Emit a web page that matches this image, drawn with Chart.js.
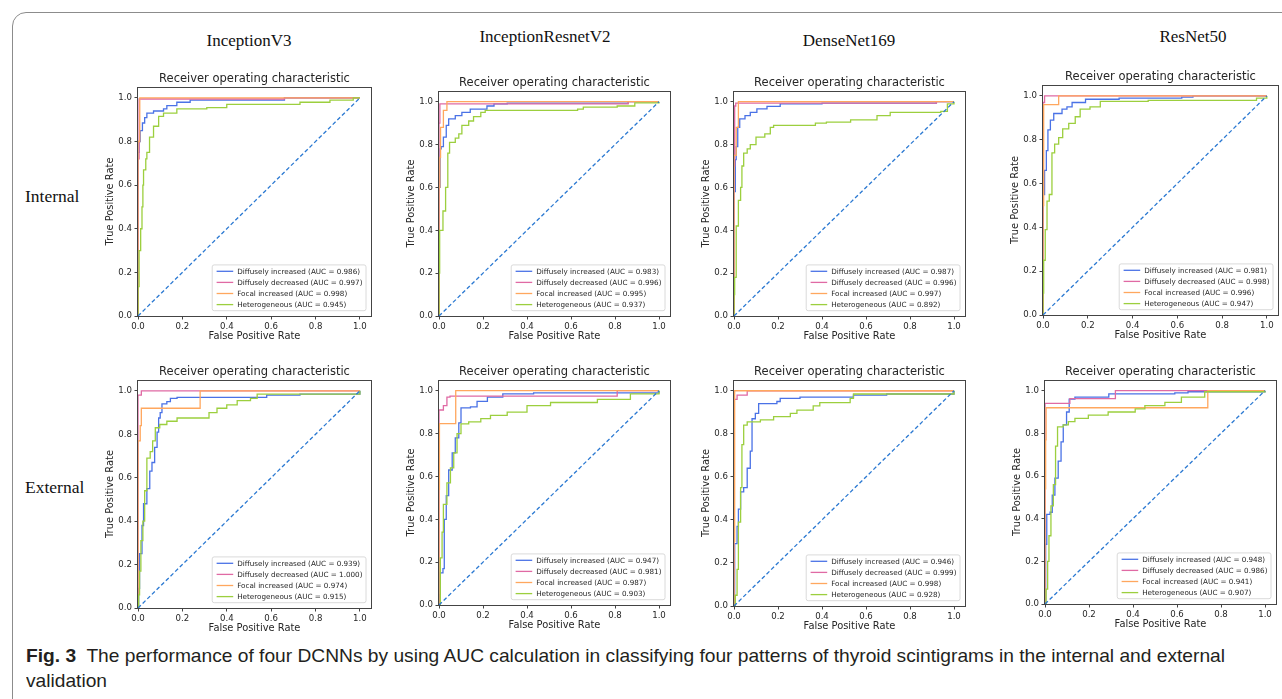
<!DOCTYPE html>
<html>
<head>
<meta charset="utf-8">
<title>Fig. 3 ROC curves</title>
<script src="https://cdn.jsdelivr.net/npm/chart.js@4.4.1/dist/chart.umd.min.js"></script>
<style>
  body { margin: 0; width: 1282px; height: 699px; overflow: hidden; background: #fff; position: relative; }
  .frame { position: absolute; left: 12px; top: 12px; width: 1400px; height: 800px; border: 1px solid #8c8c8c; border-top-left-radius: 14px; }
  .head { position: absolute; font-family: "Liberation Serif", serif; font-size: 17px; line-height: 17px; color: #111; transform: translateX(-50%); white-space: nowrap; }
  .row { position: absolute; font-family: "Liberation Serif", serif; font-size: 17.5px; line-height: 18px; color: #111; white-space: nowrap; }
  .cap { position: absolute; left: 26px; top: 643px; font-family: "Liberation Sans Narrow", "Liberation Sans", sans-serif; font-size: 18.5px; line-height: 25px; color: #231f20; white-space: nowrap; transform-origin: 0 0; }
  .cap b { font-weight: bold; }
  canvas { position: absolute; }
</style>
</head>
<body>
<div class="frame"></div>
<div id="heads"></div>
<div class="cap" id="cap"><span id="capLine"><b>Fig. 3</b>&nbsp; The performance of four DCNNs by using AUC calculation in classifying four patterns of thyroid scintigrams in the internal and external</span><br>validation</div>

<script>
// ---- data ----
const MODELS = ['InceptionV3', 'InceptionResnetV2', 'DenseNet169', 'ResNet50'];
const SETS = ['Internal', 'External'];
const CLASSES = ['Diffusely increased', 'Diffusely decreased', 'Focal increased', 'Heterogeneous'];
const TICKS = [0, 0.2, 0.4, 0.6, 0.8, 1.0];
const CHANCE = [[0, 0], [1, 1]];

const AUC_V3_INT = [0.986, 0.997, 0.998, 0.945];
const AUC_IRV2_INT = [0.983, 0.996, 0.995, 0.937];
const AUC_DN_INT = [0.987, 0.996, 0.997, 0.892];
const AUC_RN_INT = [0.981, 0.998, 0.996, 0.947];
const AUC_V3_EXT = [0.939, 1.000, 0.974, 0.915];
const AUC_IRV2_EXT = [0.947, 0.981, 0.987, 0.903];
const AUC_DN_EXT = [0.946, 0.999, 0.998, 0.928];
const AUC_RN_EXT = [0.948, 0.986, 0.941, 0.907];

// ROC corner points [fpr, tpr]
const V3_INT_INC = [[0,0],[0,0.75],[0.005,0.8],[0.01,0.85],[0.02,0.885],[0.03,0.91],[0.04,0.93],[0.07,0.94],[0.115,0.95],[0.13,0.965],[0.175,0.98],[0.235,0.99],[0.66,1],[1,1]];
const V3_INT_DEC = [[0,0],[0,0.72],[0.005,0.995],[0.66,1],[1,1]];
const V3_INT_FOC = [[0,0],[0,0.8],[0.008,1],[1,1]];
const V3_INT_HET = [[0,0],[0,0.135],[0.005,0.3],[0.012,0.4],[0.018,0.5],[0.022,0.6],[0.025,0.67],[0.035,0.72],[0.04,0.75],[0.052,0.82],[0.07,0.87],[0.093,0.915],[0.115,0.93],[0.175,0.95],[0.31,0.955],[0.4,0.97],[0.73,0.98],[0.865,0.99],[0.97,1],[1,1]];

const IRV2_INT_INC = [[0,0],[0,0.6],[0.005,0.78],[0.01,0.79],[0.02,0.835],[0.033,0.89],[0.044,0.92],[0.074,0.935],[0.104,0.95],[0.142,0.965],[0.218,0.98],[0.25,0.99],[0.31,0.993],[0.86,1],[1,1]];
const IRV2_INT_DEC = [[0,0],[0,0.9],[0.004,0.99],[0.86,1],[1,1]];
const IRV2_INT_FOC = [[0,0],[0,0.6],[0.004,0.74],[0.007,0.88],[0.02,0.96],[0.036,1],[1,1]];
const IRV2_INT_HET = [[0,0],[0,0.2],[0.003,0.4],[0.018,0.49],[0.03,0.6],[0.04,0.76],[0.048,0.81],[0.074,0.83],[0.09,0.85],[0.104,0.89],[0.135,0.91],[0.157,0.93],[0.19,0.95],[0.21,0.96],[0.63,0.965],[0.656,0.975],[0.81,0.98],[0.89,0.995],[1,1]];

const DN_INT_INC = [[0,0],[0,0.58],[0.006,0.73],[0.01,0.79],[0.017,0.88],[0.026,0.92],[0.05,0.935],[0.074,0.95],[0.104,0.967],[0.15,0.978],[0.21,0.99],[0.4,0.993],[0.92,1],[1,1]];
const DN_INT_DEC = [[0,0],[0,0.7],[0.003,0.98],[0.008,0.993],[0.92,1],[1,1]];
const DN_INT_FOC = [[0,0],[0,0.75],[0.01,0.88],[0.02,1],[1,1]];
const DN_INT_HET = [[0,0],[0,0.1],[0.003,0.18],[0.01,0.42],[0.02,0.54],[0.03,0.6],[0.036,0.7],[0.044,0.76],[0.06,0.78],[0.074,0.8],[0.1,0.835],[0.14,0.85],[0.165,0.88],[0.18,0.89],[0.37,0.9],[0.42,0.905],[0.53,0.915],[0.65,0.935],[0.71,0.95],[0.94,0.955],[0.97,0.99],[1,1]];

const RN_INT_INC = [[0,0],[0,0.55],[0.007,0.66],[0.015,0.75],[0.022,0.845],[0.033,0.89],[0.048,0.92],[0.085,0.94],[0.107,0.95],[0.13,0.97],[0.19,0.985],[0.34,0.99],[0.62,0.995],[0.67,1],[1,1]];
const RN_INT_DEC = [[0,0],[0,0.97],[0.007,1],[1,1]];
const RN_INT_FOC = [[0,0],[0,0.5],[0.003,0.96],[0.07,1],[1,1]];
const RN_INT_HET = [[0,0],[0,0.1],[0.003,0.25],[0.01,0.39],[0.018,0.52],[0.028,0.55],[0.04,0.74],[0.052,0.78],[0.07,0.81],[0.088,0.85],[0.115,0.875],[0.144,0.905],[0.166,0.94],[0.21,0.95],[0.256,0.975],[0.47,0.98],[0.954,0.99],[1,1]];

const V3_EXT_INC = [[0,0],[0.003,0.09],[0.007,0.25],[0.018,0.38],[0.025,0.48],[0.04,0.55],[0.053,0.63],[0.063,0.67],[0.075,0.74],[0.086,0.81],[0.093,0.875],[0.1,0.9],[0.108,0.94],[0.13,0.95],[0.146,0.965],[0.176,0.97],[0.58,0.98],[0.73,0.985],[1,1]];
const V3_EXT_DEC = [[0,0],[0,0.98],[0.015,1],[1,1]];
const V3_EXT_FOC = [[0,0],[0,0.77],[0.01,0.84],[0.015,0.92],[0.28,1],[1,1]];
const V3_EXT_HET = [[0,0],[0.003,0.06],[0.007,0.17],[0.013,0.31],[0.022,0.4],[0.03,0.54],[0.04,0.69],[0.055,0.72],[0.066,0.77],[0.078,0.83],[0.098,0.845],[0.13,0.86],[0.176,0.875],[0.32,0.9],[0.356,0.92],[0.4,0.935],[0.447,0.955],[0.507,0.965],[0.537,0.985],[1,1]];

const IRV2_EXT_INC = [[0,0],[0.003,0.05],[0.006,0.15],[0.018,0.17],[0.024,0.4],[0.033,0.51],[0.044,0.63],[0.06,0.71],[0.074,0.78],[0.09,0.85],[0.1,0.92],[0.143,0.925],[0.173,0.95],[0.22,0.97],[0.29,0.985],[0.43,0.99],[1,1]];
const IRV2_EXT_DEC = [[0,0],[0,0.91],[0.02,0.93],[0.036,0.97],[0.05,0.975],[0.81,1],[1,1]];
const IRV2_EXT_FOC = [[0,0],[0,0.54],[0.002,0.846],[0.076,1],[1,1]];
const IRV2_EXT_HET = [[0,0],[0.006,0.22],[0.014,0.34],[0.02,0.47],[0.036,0.57],[0.052,0.64],[0.067,0.71],[0.082,0.8],[0.1,0.845],[0.135,0.855],[0.19,0.87],[0.234,0.885],[0.31,0.9],[0.4,0.93],[0.507,0.945],[0.72,0.96],[0.87,0.985],[1,1]];

const DN_EXT_INC = [[0,0],[0.003,0.29],[0.014,0.37],[0.02,0.45],[0.03,0.53],[0.044,0.55],[0.06,0.64],[0.074,0.72],[0.082,0.87],[0.097,0.895],[0.112,0.94],[0.195,0.95],[0.21,0.965],[0.3,0.97],[0.543,0.98],[0.694,0.985],[1,1]];
const DN_EXT_DEC = [[0,0],[0,0.96],[0.014,0.98],[0.06,1],[1,1]];
const DN_EXT_FOC = [[0,0],[0,0.3],[0.003,1],[1,1]];
const DN_EXT_HET = [[0,0],[0.006,0.05],[0.014,0.17],[0.02,0.39],[0.03,0.55],[0.036,0.75],[0.044,0.84],[0.06,0.855],[0.12,0.865],[0.18,0.88],[0.256,0.895],[0.286,0.91],[0.36,0.93],[0.39,0.945],[0.528,0.965],[0.543,0.985],[1,1]];

const RN_EXT_INC = [[0,0],[0.003,0.28],[0.008,0.42],[0.023,0.43],[0.033,0.51],[0.045,0.59],[0.06,0.67],[0.073,0.76],[0.083,0.84],[0.098,0.9],[0.11,0.96],[0.136,0.97],[0.29,0.985],[0.59,0.99],[0.65,0.995],[1,1]];
const RN_EXT_DEC = [[0,0],[0,0.94],[0.113,0.963],[0.32,1],[1,1]];
const RN_EXT_FOC = [[0,0],[0,0.54],[0.003,0.77],[0.005,0.92],[0.74,1],[1,1]];
const RN_EXT_HET = [[0,0],[0.005,0.07],[0.012,0.2],[0.018,0.32],[0.027,0.46],[0.038,0.56],[0.048,0.74],[0.057,0.83],[0.083,0.84],[0.106,0.855],[0.136,0.87],[0.197,0.885],[0.287,0.9],[0.41,0.915],[0.454,0.93],[0.545,0.945],[0.62,0.97],[0.726,0.995],[1,1]];

// ---- style / layout ----
const COLORS = ['#4a72e6', '#e06aa4', '#ffa75e', '#9ccf3e'];
const CHANCE_COLOR = '#2b79d2';
const SPINE = '#444444';
const TXT = '#262626';
const FONT = '"DejaVu Sans", sans-serif';
const Y_W = 36, X_H = 36, TITLE_H = 24, PAD_R = 4;

// plot boxes on the page: [left, top, width, height] of the 0..1.05 area
const PANELS = [
  { model: 0, set: 0, curves: [V3_INT_INC, V3_INT_DEC, V3_INT_FOC, V3_INT_HET], auc: AUC_V3_INT, box: [138, 87, 233, 229] },
  { model: 1, set: 0, curves: [IRV2_INT_INC, IRV2_INT_DEC, IRV2_INT_FOC, IRV2_INT_HET], auc: AUC_IRV2_INT, box: [439, 91, 231, 225] },
  { model: 2, set: 0, curves: [DN_INT_INC, DN_INT_DEC, DN_INT_FOC, DN_INT_HET], auc: AUC_DN_INT, box: [734, 91, 231, 225] },
  { model: 3, set: 0, curves: [RN_INT_INC, RN_INT_DEC, RN_INT_FOC, RN_INT_HET], auc: AUC_RN_INT, box: [1043, 85, 235, 230] },
  { model: 0, set: 1, curves: [V3_EXT_INC, V3_EXT_DEC, V3_EXT_FOC, V3_EXT_HET], auc: AUC_V3_EXT, box: [138, 380, 233, 228] },
  { model: 1, set: 1, curves: [IRV2_EXT_INC, IRV2_EXT_DEC, IRV2_EXT_FOC, IRV2_EXT_HET], auc: AUC_IRV2_EXT, box: [439, 380, 231, 225] },
  { model: 2, set: 1, curves: [DN_EXT_INC, DN_EXT_DEC, DN_EXT_FOC, DN_EXT_HET], auc: AUC_DN_EXT, box: [734, 380, 231, 226] },
  { model: 3, set: 1, curves: [RN_EXT_INC, RN_EXT_DEC, RN_EXT_FOC, RN_EXT_HET], auc: AUC_RN_EXT, box: [1045, 380, 231, 224] },
];
const HEAD_POS = [[249, 32], [545, 28], [849, 32], [1193, 28]];
const ROW_POS = [[25, 187], [25, 478]];

// headers and row labels
const heads = document.getElementById('heads');
MODELS.forEach((m, i) => {
  const d = document.createElement('div');
  d.className = 'head'; d.textContent = m;
  d.style.left = HEAD_POS[i][0] + 'px'; d.style.top = HEAD_POS[i][1] + 'px';
  heads.appendChild(d);
});
SETS.forEach((s, i) => {
  const d = document.createElement('div');
  d.className = 'row'; d.textContent = s;
  d.style.left = ROW_POS[i][0] + 'px'; d.style.top = ROW_POS[i][1] + 'px';
  heads.appendChild(d);
});

// spines + matplotlib-like legend in the lower right corner
const decor = {
  id: 'decor',
  afterDatasetsDraw(chart) {
    const { ctx, chartArea: a } = chart;
    ctx.save();
    ctx.strokeStyle = SPINE;
    ctx.lineWidth = 1;
    ctx.strokeRect(Math.round(a.left) - 0.5, Math.round(a.top) + 0.5, Math.round(a.right - a.left) + 1, Math.round(a.bottom - a.top));

    const items = chart.data.datasets.filter(d => !d.noLegend);
    ctx.font = '7.2px ' + FONT;
    const tw = Math.max(...items.map(d => ctx.measureText(d.label).width));
    const rowH = 11.1, padL = 4.4, handle = 16.6, gap = 4, padR = 3.5;
    const bw = padL + handle + gap + tw + padR;
    const bh = rowH * items.length + 1.4;
    const bx = a.right - 5 - bw, by = a.bottom - 5.3 - bh;
    ctx.beginPath();
    ctx.roundRect(bx, by, bw, bh, 2);
    ctx.fillStyle = 'rgba(255,255,255,0.85)';
    ctx.fill();
    ctx.strokeStyle = '#d0d0d0';
    ctx.lineWidth = 0.8;
    ctx.stroke();
    ctx.textBaseline = 'middle';
    items.forEach((d, i) => {
      const cy = by + 6.4 + i * rowH;
      ctx.beginPath();
      ctx.moveTo(bx + padL, cy);
      ctx.lineTo(bx + padL + handle, cy);
      ctx.strokeStyle = d.borderColor;
      ctx.lineWidth = 1.3;
      ctx.stroke();
      ctx.fillStyle = TXT;
      ctx.fillText(d.label, bx + padL + handle + gap, cy + 0.5);
    });
    ctx.restore();
  }
};

function axisOpts(text, isX) {
  return {
    type: 'linear',
    min: 0,
    max: 1.05,
    afterBuildTicks: s => { s.ticks = TICKS.map(v => ({ value: v })); },
    afterFit: s => { if (isX) s.height = X_H; else s.width = Y_W; },
    ticks: { callback: v => v.toFixed(1), font: { family: FONT, size: 8.6 }, color: TXT, padding: 2.5, maxRotation: 0, autoSkip: false },
    grid: { display: true, drawOnChartArea: false, drawTicks: true, tickLength: 3.5, color: SPINE },
    border: { display: false },
    title: {
      display: true, text, color: TXT,
      font: { family: FONT, size: 9.9, lineHeight: 1.2 },
      padding: isX ? { top: 0, bottom: 9.4 } : { top: 2.4, bottom: 0 }
    }
  };
}

PANELS.forEach(p => {
  const [bl, bt, bw, bh] = p.box;
  const cv = document.createElement('canvas');
  cv.width = bw + Y_W + PAD_R;
  cv.height = bh + TITLE_H + X_H;
  cv.style.left = (bl - Y_W) + 'px';
  cv.style.top = (bt - TITLE_H) + 'px';
  document.body.appendChild(cv);

  const datasets = p.curves.map((c, i) => ({
    label: CLASSES[i] + ' (AUC = ' + p.auc[i].toFixed(3) + ')',
    data: c.map(([x, y]) => ({ x, y })),
    borderColor: COLORS[i],
    borderWidth: 1.3,
    pointRadius: 0,
    stepped: 'before',
    fill: false,
    order: 10 - i
  }));
  datasets.push({
    label: 'chance',
    noLegend: true,
    data: CHANCE.map(([x, y]) => ({ x, y })),
    borderColor: CHANCE_COLOR,
    borderDash: [4, 2.5],
    borderWidth: 1.3,
    pointRadius: 0,
    fill: false,
    order: 0
  });

  new Chart(cv, {
    type: 'line',
    data: { datasets },
    options: {
      responsive: false,
      animation: false,
      devicePixelRatio: 1,
      layout: { padding: { left: 0, right: PAD_R, top: 0, bottom: 0 } },
      plugins: {
        legend: { display: false },
        tooltip: { enabled: false },
        title: {
          display: true,
          fullSize: false,
          text: 'Receiver operating characteristic',
          color: TXT,
          font: { family: FONT, size: 11.5, weight: 'normal', lineHeight: 1.2 },
          padding: { top: 9.6, bottom: 0.6 }
        }
      },
      scales: { x: axisOpts('False Positive Rate', true), y: axisOpts('True Positive Rate', false) }
    },
    plugins: [decor]
  });
});

// squeeze the caption's first line to the printed width (the print uses a condensed face)
const capLine = document.getElementById('capLine');
const w = capLine.getBoundingClientRect().width;
document.getElementById('cap').style.transform = 'scaleX(' + (1199 / w).toFixed(4) + ')';
</script>
</body>
</html>
